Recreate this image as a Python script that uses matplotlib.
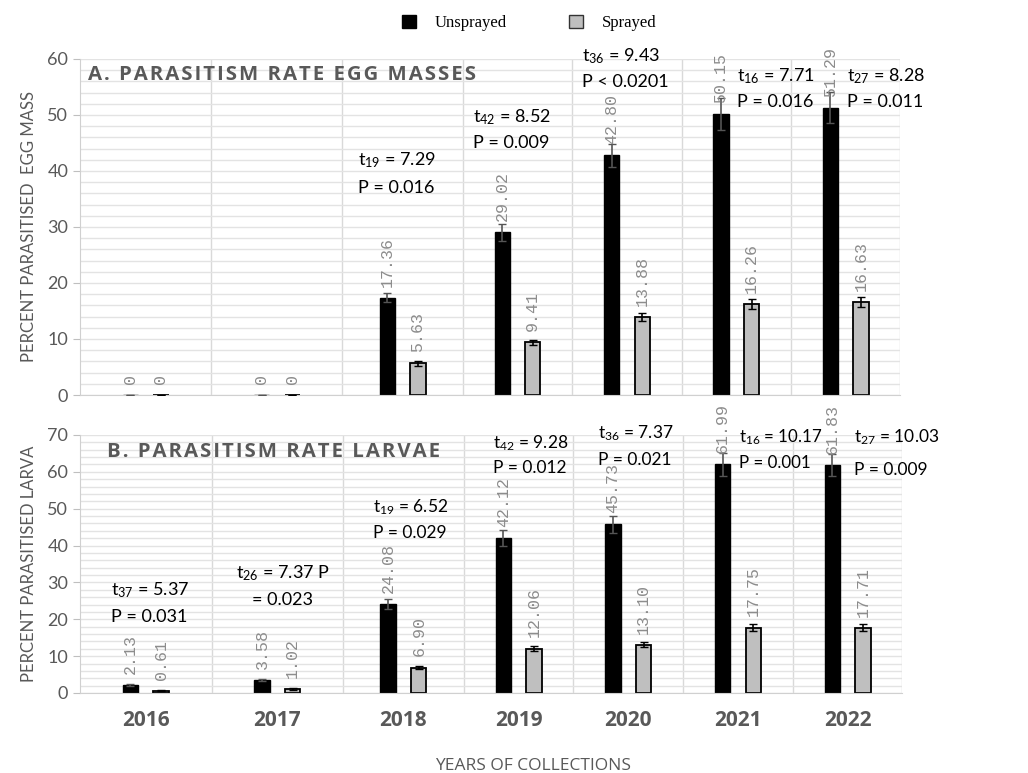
import numpy as np
import matplotlib
matplotlib.use('Agg')
import matplotlib.pyplot as plt
import matplotlib.transforms as mtransforms
from matplotlib.patches import Patch

# data

years = ['2016', '2017', '2018', '2019', '2020', '2021', '2022']

egg_unsprayed = [0, 0, 17.36, 29.02, 42.80, 50.15, 51.29]
egg_sprayed = [0, 0, 5.63, 9.41, 13.88, 16.26, 16.63]
egg_unsprayed_err = [0, 0, 0.8, 1.5, 2.1, 2.8, 2.8]
egg_sprayed_err = [0, 0, 0.4, 0.5, 0.75, 0.9, 0.85]

larva_unsprayed = [2.13, 3.58, 24.08, 42.12, 45.73, 61.99, 61.83]
larva_sprayed = [0.61, 1.02, 6.90, 12.06, 13.10, 17.75, 17.71]
larva_unsprayed_err = [0.2, 0.25, 1.3, 2.2, 2.2, 3.0, 3.0]
larva_sprayed_err = [0.15, 0.2, 0.3, 0.7, 0.65, 0.9, 0.9]

# t-test annotations: (year index, subscript, t, p-text)
egg_stats = [
    (2, '19', '7.29', 'P = 0.016'),
    (3, '42', '8.52', 'P = 0.009'),
    (4, '36', '9.43', 'P < 0.0201'),
    (5, '16', '7.71', 'P = 0.016'),
    (6, '27', '8.28', 'P = 0.011'),
]
larva_stats = [
    (0, '37', '5.37', 'P = 0.031'),
    (1, '26', '7.37 P', '= 0.023'),
    (2, '19', '6.52', 'P = 0.029'),
    (3, '42', '9.28', 'P = 0.012'),
    (4, '36', '7.37', 'P = 0.021'),
    (5, '16', '10.17', 'P = 0.001'),
    (6, '27', '10.03', 'P = 0.009'),
]

GRAY_TXT = '#595959'
LABEL_GRAY = '#8c8c8c'
GRID = '#e3e3e3'

plt.rcParams['font.family'] = ['Lato', 'DejaVu Sans']
plt.rcParams['mathtext.fontset'] = 'custom'
plt.rcParams['mathtext.rm'] = 'Lato'

fig = plt.figure(figsize=(10.28, 7.73), dpi=100)
ax1 = fig.add_axes([0.0778, 0.489, 0.798, 0.4347])
ax2 = fig.add_axes([0.0778, 0.1035, 0.800, 0.3338])

# the first years take a little more room in the original layout
cat_w = [1.2, 1.2, 1.1, 1, 1, 1, 1]
edges = np.concatenate([[0], np.cumsum(cat_w)])
x = (edges[:-1] + edges[1:]) / 2
off = 0.14
w = 0.14


def spaced(s):
    # rough letter spacing with hair spaces
    return '\u200a'.join(s)


def draw_panel(ax, unspr, spr, unspr_err, spr_err, ymax, title, title_pos, ylabel, stats, stat_pos):
    ax.set_xlim(edges[0], edges[-1])
    ax.set_ylim(0, ymax)
    ax.set_yticks(np.arange(0, ymax + 1, 10))
    ax.set_yticks(np.arange(0, ymax + 0.1, 2), minor=True)
    ax.yaxis.grid(True, which='both', color=GRID, lw=1)
    ax.set_axisbelow(True)
    for b in edges[1:]:
        ax.axvline(b, color='#d9d9d9', lw=1, zorder=0)
    for s in ['top', 'right']:
        ax.spines[s].set_visible(False)
    for s in ['left', 'bottom']:
        ax.spines[s].set_color('#d0d0d0')
    ax.tick_params(axis='y', which='major', colors='#bfbfbf', length=5, labelcolor=GRAY_TXT, labelsize=13)
    ax.tick_params(axis='y', which='minor', length=0)
    ax.tick_params(axis='x', length=0)

    ax.bar(x - off, unspr, w, color='black', edgecolor='black', lw=1, zorder=2)
    ax.bar(x + off, spr, w, color='#bfbfbf', edgecolor='black', lw=1.3, zorder=2)
    ax.errorbar(x - off, unspr, yerr=unspr_err, fmt='none', ecolor='#555555', capsize=3, elinewidth=1.2, zorder=3)
    ax.errorbar(x + off, spr, yerr=spr_err, fmt='none', ecolor='black', capsize=3, elinewidth=1.2, zorder=3)

    for xs, vals in [(x - off, unspr), (x + off, spr)]:
        for xi, v in zip(xs, vals):
            txt = '0' if v == 0 else '%.2f' % v
            ax.annotate(txt, (xi, v), xytext=(0, 8), textcoords='offset points',
                        rotation=90, ha='center', va='bottom', color=LABEL_GRAY,
                        family='Liberation Mono', fontsize=12, annotation_clip=False,
                        zorder=4)

    trans = mtransforms.blended_transform_factory(ax.transAxes, ax.transData)
    ax.text(title_pos[0], title_pos[1], spaced(title), transform=trans,
            fontsize=14.7, fontweight='bold', color=GRAY_TXT, va='center', ha='left',
            family=['Open Sans', 'DejaVu Sans'])
    ax.set_ylabel(ylabel, color=GRAY_TXT, fontsize=12)

    for (i, sub, tval, ptxt), (dx, ty, py, ha, fs) in zip(stats, stat_pos):
        ax.text(x[i] + dx, ty, r'$\mathregular{t_{%s}}$ = %s' % (sub, tval), fontsize=fs,
                ha=ha, va='center', color='black', clip_on=False)
        ax.text(x[i] + dx, py, ptxt, fontsize=fs,
                ha=ha, va='center', color='black', clip_on=False)


egg_pos = [
    (-0.41, 42.0, 37.0, 'left', 13),
    (-0.41, 49.6, 45.0, 'left', 13),
    (-0.41, 60.5, 55.9, 'left', 13),
    (0.01, 57.0, 52.3, 'left', 13),
    (0.01, 57.0, 52.3, 'left', 13),
]
larva_pos = [
    (-0.315, 27.9, 20.6, 'left', 13),
    (0.05, 32.5, 25.2, 'center', 13),
    (-0.28, 50.4, 43.4, 'left', 12.5),
    (-0.23, 67.8, 61.0, 'left', 12.5),
    (-0.28, 70.5, 63.2, 'left', 12.5),
    (0.01, 69.4, 62.3, 'left', 12.2),
    (0.06, 69.4, 60.4, 'left', 12.5),
]

draw_panel(ax1, egg_unsprayed, egg_sprayed, egg_unsprayed_err, egg_sprayed_err, 60,
           'A. PARASITISM RATE EGG MASSES', (0.01, 57.1), 'PERCENT PARASITISED  EGG MASS',
           egg_stats, egg_pos)
draw_panel(ax2, larva_unsprayed, larva_sprayed, larva_unsprayed_err, larva_sprayed_err, 70,
           'B. PARASITISM RATE LARVAE', (0.033, 65.3), 'PERCENT PARASITISED LARVA',
           larva_stats, larva_pos)

ax1.set_xticks(x)
ax1.set_xticklabels([])
ax2.set_xticks(x)
ax2.set_xticklabels(years, fontsize=15, fontweight='bold', color=GRAY_TXT, family='Open Sans')
ax2.tick_params(axis='x', pad=12)
ax2.set_xlabel('YEARS OF COLLECTIONS', fontsize=12.5, color=GRAY_TXT, family='Open Sans')
ax2.xaxis.set_label_coords(0.551, -0.25)

ax1.yaxis.set_label_coords(-0.052, 0.5)
ax2.yaxis.set_label_coords(-0.052, 0.5)

handles = [Patch(facecolor='black', edgecolor='black'),
           Patch(facecolor='#bfbfbf', edgecolor='#333333')]
fig.legend(handles, ['Unsprayed', 'Sprayed'], loc='upper center', bbox_to_anchor=(0.515, 1.0),
           ncol=2, frameon=False, prop={'family': 'Liberation Serif', 'size': 12},
           handlelength=0.8, handleheight=0.8, handletextpad=1.15, columnspacing=3.75)

fig.savefig('out.png', dpi=100)
